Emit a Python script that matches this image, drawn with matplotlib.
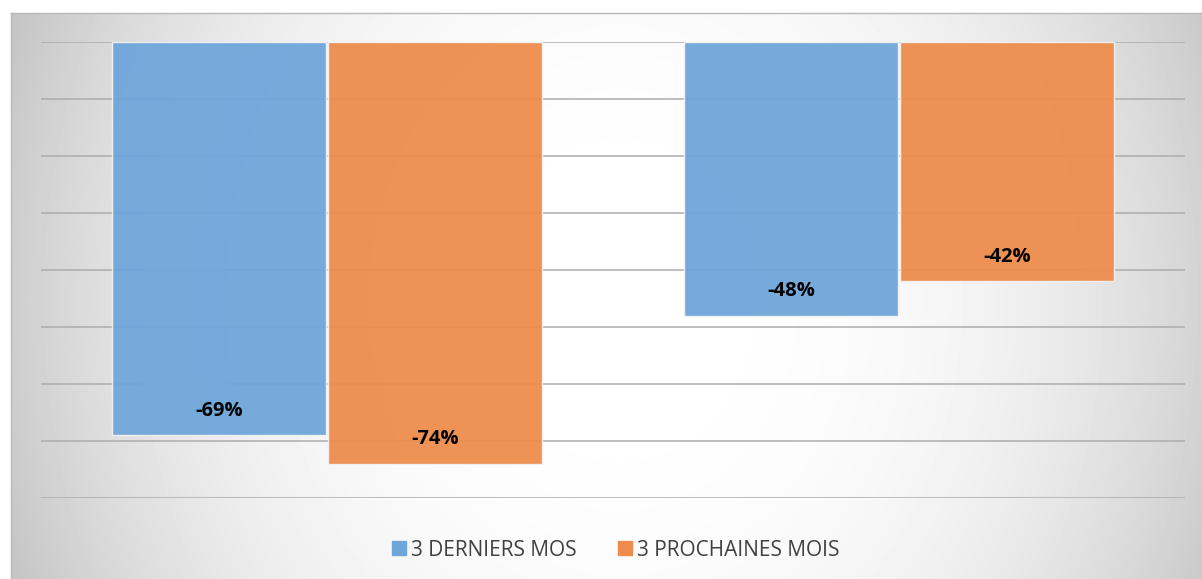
import numpy as np
import matplotlib
matplotlib.use("Agg")
import matplotlib.pyplot as plt
from matplotlib.lines import Line2D

# two groups, no category names shown on the chart
groups = [0, 1]
derniers = [-69, -48]     # 3 derniers mois
prochaines = [-74, -42]   # 3 prochaines mois
labels = ["3 DERNIERS MOS", "3 PROCHAINES MOIS"]
colors = ["#6fa6da", "#ee8c4d"]

W, H = 1202, 579
fig = plt.figure(figsize=(W / 100, H / 100), dpi=100)
fig.patch.set_facecolor("white")

# grey radial background like the original
bg = fig.add_axes([11 / W, 0, 1 - 11 / W, 1 - 13 / H])
xx, yy = np.meshgrid(np.arange(11, W), np.arange(13, H))
r2 = ((xx - 620) / 640.0) ** 2 + ((yy - 300) / 760.0) ** 2
shade = 1 - 0.22 * np.clip(r2 ** 1.3, 0, 1.1)
bg.imshow(shade, cmap="gray", vmin=0, vmax=1, aspect="auto", interpolation="bilinear")
bg.set_axis_off()
fig.add_artist(Line2D([11 / W, 1], [1 - 13 / H, 1 - 13 / H], color="#b8b8b8", lw=1))
fig.add_artist(Line2D([11 / W, 11 / W], [0, 1 - 13 / H], color="#b8b8b8", lw=1))

ax = fig.add_axes([41 / W, 1 - 498 / H, (1185 - 41) / W, (498 - 42) / H])
ax.set_facecolor("none")
ax.set_xlim(-0.5, 1.5)
ax.set_ylim(-80, 0)
ax.set_yticks(np.arange(-80, 1, 10))
ax.yaxis.grid(True, color="#acacac", lw=1.1)
ax.set_axisbelow(True)
ax.tick_params(left=False, bottom=False, labelleft=False, labelbottom=False)
for s in ax.spines.values():
    s.set_visible(False)

x = np.array(groups)
w = 0.375
off = 0.189
ax.bar(x - off, derniers, w, color=colors[0], edgecolor="#f2f2f2", lw=1, alpha=0.95)
ax.bar(x + off, prochaines, w, color=colors[1], edgecolor="#f2f2f2", lw=1, alpha=0.95)

for xi, v in zip(x - off, derniers):
    ax.text(xi, v + 4.3, f"{v}%", ha="center", va="center", fontsize=14.5,
            fontweight="bold", family="Open Sans", color="black")
for xi, v in zip(x + off, prochaines):
    ax.text(xi, v + 4.3, f"{v}%", ha="center", va="center", fontsize=14.5,
            fontweight="bold", family="Open Sans", color="black")

handles = [Line2D([], [], marker="s", ls="", ms=10, color=c) for c in colors]
leg = fig.legend(handles, labels, loc="center", bbox_to_anchor=(616 / W, 1 - 550 / H),
                 ncol=2, frameon=False, handlelength=0.6, handletextpad=0.3,
                 columnspacing=2.0, prop={"family": "Open Sans", "size": 15})
for t in leg.get_texts():
    t.set_color("#404040")

fig.savefig("out.png", dpi=100)
